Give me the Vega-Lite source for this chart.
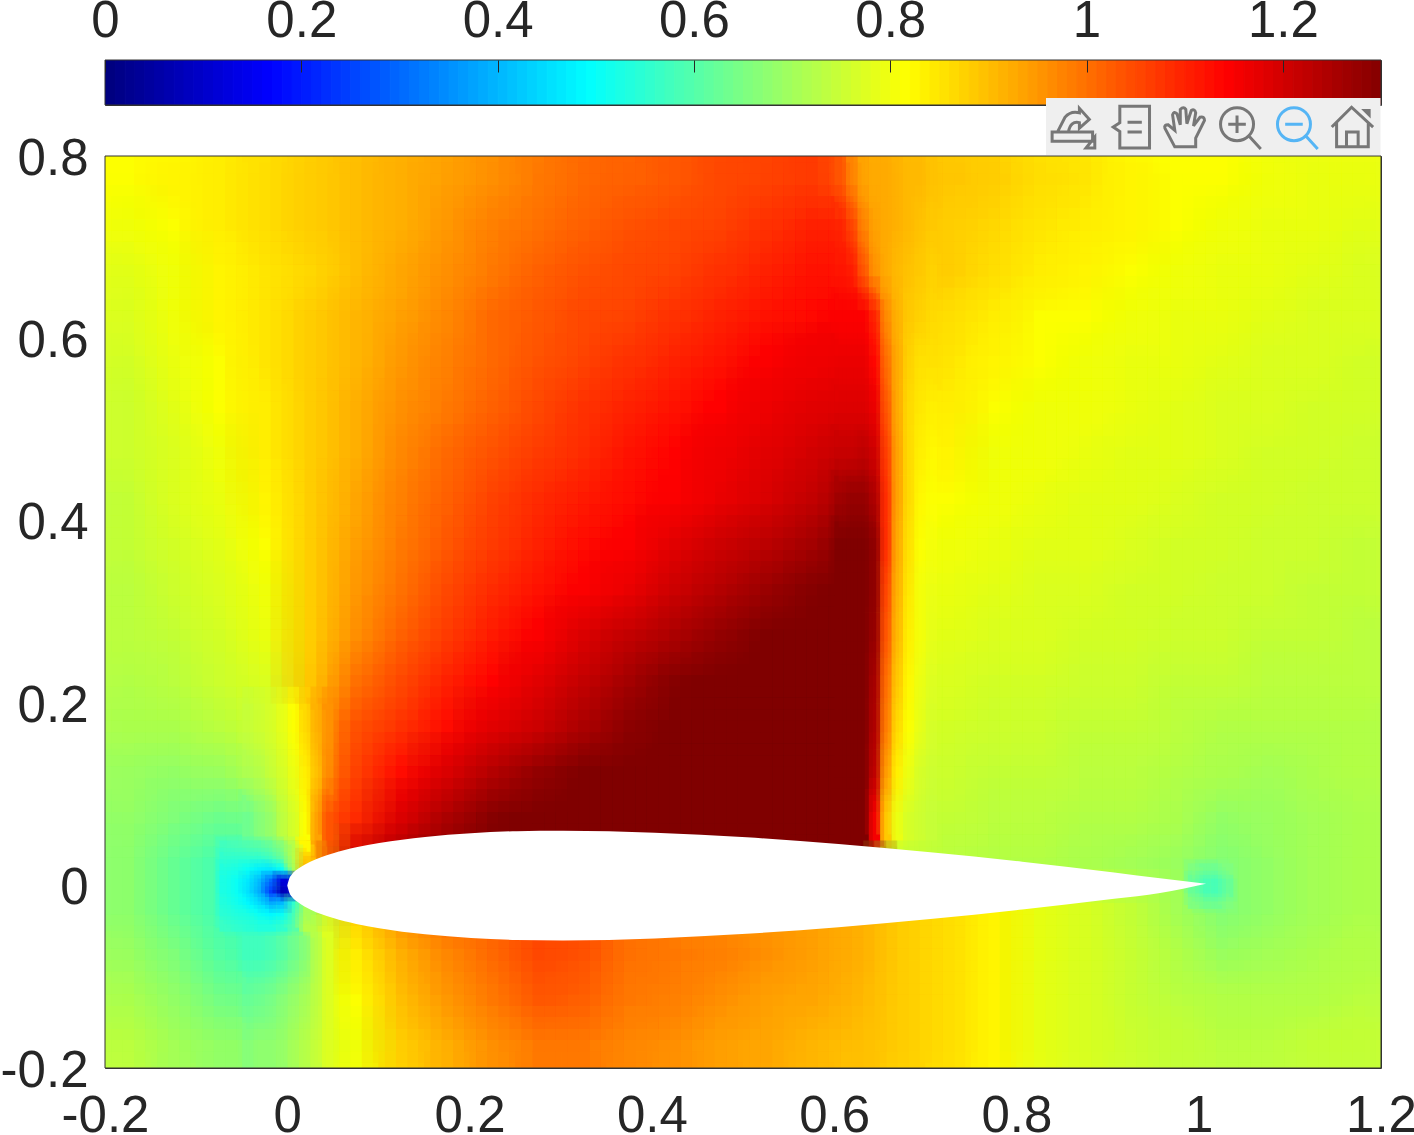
{"$schema":"https://vega.github.io/schema/vega-lite/v6.json","background":"white","padding":{"left":-1,"top":-6,"right":0,"bottom":0},"bounds":"flush","spacing":51,"config":{"font":"Liberation Sans","view":{"stroke":"#333333","strokeWidth":1},"axis":{"labelFont":"Liberation Sans","labelFontSize":51,"labelColor":"#262626","title":null,"grid":false,"domain":false}},
"datasets":{
"bar":[{"v":0},{"v":0.01},{"v":0.02},{"v":0.03},{"v":0.04},{"v":0.05},{"v":0.06},{"v":0.07},{"v":0.08},{"v":0.09},{"v":0.1},{"v":0.11},{"v":0.12},{"v":0.13},{"v":0.14},{"v":0.15},{"v":0.16},{"v":0.17},{"v":0.18},{"v":0.19},{"v":0.2},{"v":0.21},{"v":0.22},{"v":0.23},{"v":0.24},{"v":0.25},{"v":0.26},{"v":0.27},{"v":0.28},{"v":0.29},{"v":0.3},{"v":0.31},{"v":0.32},{"v":0.33},{"v":0.34},{"v":0.35},{"v":0.36},{"v":0.37},{"v":0.38},{"v":0.39},{"v":0.4},{"v":0.41},{"v":0.42},{"v":0.43},{"v":0.44},{"v":0.45},{"v":0.46},{"v":0.47},{"v":0.48},{"v":0.49},{"v":0.5},{"v":0.51},{"v":0.52},{"v":0.53},{"v":0.54},{"v":0.55},{"v":0.56},{"v":0.57},{"v":0.58},{"v":0.59},{"v":0.6},{"v":0.61},{"v":0.62},{"v":0.63},{"v":0.64},{"v":0.65},{"v":0.66},{"v":0.67},{"v":0.68},{"v":0.69},{"v":0.7},{"v":0.71},{"v":0.72},{"v":0.73},{"v":0.74},{"v":0.75},{"v":0.76},{"v":0.77},{"v":0.78},{"v":0.79},{"v":0.8},{"v":0.81},{"v":0.82},{"v":0.83},{"v":0.84},{"v":0.85},{"v":0.86},{"v":0.87},{"v":0.88},{"v":0.89},{"v":0.9},{"v":0.91},{"v":0.92},{"v":0.93},{"v":0.94},{"v":0.95},{"v":0.96},{"v":0.97},{"v":0.98},{"v":0.99},{"v":1},{"v":1.01},{"v":1.02},{"v":1.03},{"v":1.04},{"v":1.05},{"v":1.06},{"v":1.07},{"v":1.08},{"v":1.09},{"v":1.1},{"v":1.11},{"v":1.12},{"v":1.13},{"v":1.14},{"v":1.15},{"v":1.16},{"v":1.17},{"v":1.18},{"v":1.19},{"v":1.2},{"v":1.21},{"v":1.22},{"v":1.23},{"v":1.24},{"v":1.25},{"v":1.26},{"v":1.27},{"v":1.28},{"v":1.29}],
"base":[
{"x":-0.2,"y":0.75,"v":0.81},{"x":-0.15,"y":0.75,"v":0.82},{"x":-0.1,"y":0.75,"v":0.83},{"x":-0.05,"y":0.75,"v":0.85},{"x":0,"y":0.75,"v":0.87},{"x":0.05,"y":0.75,"v":0.89},{"x":0.1,"y":0.75,"v":0.91},{"x":0.15,"y":0.75,"v":0.93},{"x":0.2,"y":0.75,"v":0.95},{"x":0.25,"y":0.75,"v":0.98},{"x":0.3,"y":0.75,"v":1.0},{"x":0.35,"y":0.75,"v":1.01},{"x":0.4,"y":0.75,"v":1.02},{"x":0.45,"y":0.75,"v":1.04},{"x":0.5,"y":0.75,"v":1.05},{"x":0.55,"y":0.75,"v":1.06},{"x":0.6,"y":0.75,"v":1.03},{"x":0.65,"y":0.75,"v":0.89},{"x":0.7,"y":0.75,"v":0.88},{"x":0.75,"y":0.75,"v":0.87},{"x":0.8,"y":0.75,"v":0.85},{"x":0.85,"y":0.75,"v":0.84},{"x":0.9,"y":0.75,"v":0.82},{"x":0.95,"y":0.75,"v":0.81},{"x":1,"y":0.75,"v":0.81},{"x":1.05,"y":0.75,"v":0.8},{"x":1.1,"y":0.75,"v":0.79},{"x":1.15,"y":0.75,"v":0.79},
{"x":-0.2,"y":0.7,"v":0.8},{"x":-0.15,"y":0.7,"v":0.81},{"x":-0.1,"y":0.7,"v":0.83},{"x":-0.05,"y":0.7,"v":0.85},{"x":0,"y":0.7,"v":0.87},{"x":0.05,"y":0.7,"v":0.89},{"x":0.1,"y":0.7,"v":0.91},{"x":0.15,"y":0.7,"v":0.94},{"x":0.2,"y":0.7,"v":0.97},{"x":0.25,"y":0.7,"v":0.99},{"x":0.3,"y":0.7,"v":1.01},{"x":0.35,"y":0.7,"v":1.03},{"x":0.4,"y":0.7,"v":1.04},{"x":0.45,"y":0.7,"v":1.05},{"x":0.5,"y":0.7,"v":1.07},{"x":0.55,"y":0.7,"v":1.09},{"x":0.6,"y":0.7,"v":1.09},{"x":0.65,"y":0.7,"v":0.88},{"x":0.7,"y":0.7,"v":0.87},{"x":0.75,"y":0.7,"v":0.86},{"x":0.8,"y":0.7,"v":0.84},{"x":0.85,"y":0.7,"v":0.83},{"x":0.9,"y":0.7,"v":0.82},{"x":0.95,"y":0.7,"v":0.81},{"x":1,"y":0.7,"v":0.8},{"x":1.05,"y":0.7,"v":0.79},{"x":1.1,"y":0.7,"v":0.79},{"x":1.15,"y":0.7,"v":0.78},
{"x":-0.2,"y":0.65,"v":0.78},{"x":-0.15,"y":0.65,"v":0.8},{"x":-0.1,"y":0.65,"v":0.82},{"x":-0.05,"y":0.65,"v":0.84},{"x":0,"y":0.65,"v":0.86},{"x":0.05,"y":0.65,"v":0.89},{"x":0.1,"y":0.65,"v":0.92},{"x":0.15,"y":0.65,"v":0.95},{"x":0.2,"y":0.65,"v":0.98},{"x":0.25,"y":0.65,"v":1.01},{"x":0.3,"y":0.65,"v":1.03},{"x":0.35,"y":0.65,"v":1.04},{"x":0.4,"y":0.65,"v":1.05},{"x":0.45,"y":0.65,"v":1.07},{"x":0.5,"y":0.65,"v":1.09},{"x":0.55,"y":0.65,"v":1.11},{"x":0.6,"y":0.65,"v":1.11},{"x":0.65,"y":0.65,"v":0.87},{"x":0.7,"y":0.65,"v":0.87},{"x":0.75,"y":0.65,"v":0.85},{"x":0.8,"y":0.65,"v":0.83},{"x":0.85,"y":0.65,"v":0.82},{"x":0.9,"y":0.65,"v":0.81},{"x":0.95,"y":0.65,"v":0.8},{"x":1,"y":0.65,"v":0.79},{"x":1.05,"y":0.65,"v":0.79},{"x":1.1,"y":0.65,"v":0.78},{"x":1.15,"y":0.65,"v":0.77},
{"x":-0.2,"y":0.6,"v":0.77},{"x":-0.15,"y":0.6,"v":0.8},{"x":-0.1,"y":0.6,"v":0.82},{"x":-0.05,"y":0.6,"v":0.84},{"x":0,"y":0.6,"v":0.87},{"x":0.05,"y":0.6,"v":0.9},{"x":0.1,"y":0.6,"v":0.93},{"x":0.15,"y":0.6,"v":0.96},{"x":0.2,"y":0.6,"v":1.0},{"x":0.25,"y":0.6,"v":1.02},{"x":0.3,"y":0.6,"v":1.04},{"x":0.35,"y":0.6,"v":1.05},{"x":0.4,"y":0.6,"v":1.07},{"x":0.45,"y":0.6,"v":1.09},{"x":0.5,"y":0.6,"v":1.11},{"x":0.55,"y":0.6,"v":1.125},{"x":0.6,"y":0.6,"v":1.14},{"x":0.65,"y":0.6,"v":0.86},{"x":0.7,"y":0.6,"v":0.85},{"x":0.75,"y":0.6,"v":0.83},{"x":0.8,"y":0.6,"v":0.81},{"x":0.85,"y":0.6,"v":0.81},{"x":0.9,"y":0.6,"v":0.8},{"x":0.95,"y":0.6,"v":0.79},{"x":1,"y":0.6,"v":0.79},{"x":1.05,"y":0.6,"v":0.78},{"x":1.1,"y":0.6,"v":0.77},{"x":1.15,"y":0.6,"v":0.77},
{"x":-0.2,"y":0.55,"v":0.76},{"x":-0.15,"y":0.55,"v":0.79},{"x":-0.1,"y":0.55,"v":0.81},{"x":-0.05,"y":0.55,"v":0.84},{"x":0,"y":0.55,"v":0.87},{"x":0.05,"y":0.55,"v":0.9},{"x":0.1,"y":0.55,"v":0.94},{"x":0.15,"y":0.55,"v":0.97},{"x":0.2,"y":0.55,"v":1.0},{"x":0.25,"y":0.55,"v":1.03},{"x":0.3,"y":0.55,"v":1.05},{"x":0.35,"y":0.55,"v":1.07},{"x":0.4,"y":0.55,"v":1.09},{"x":0.45,"y":0.55,"v":1.11},{"x":0.5,"y":0.55,"v":1.14},{"x":0.55,"y":0.55,"v":1.15},{"x":0.6,"y":0.55,"v":1.16},{"x":0.65,"y":0.55,"v":0.85},{"x":0.7,"y":0.55,"v":0.84},{"x":0.75,"y":0.55,"v":0.82},{"x":0.8,"y":0.55,"v":0.81},{"x":0.85,"y":0.55,"v":0.8},{"x":0.9,"y":0.55,"v":0.79},{"x":0.95,"y":0.55,"v":0.79},{"x":1,"y":0.55,"v":0.78},{"x":1.05,"y":0.55,"v":0.77},{"x":1.1,"y":0.55,"v":0.77},{"x":1.15,"y":0.55,"v":0.76},
{"x":-0.2,"y":0.5,"v":0.75},{"x":-0.15,"y":0.5,"v":0.78},{"x":-0.1,"y":0.5,"v":0.81},{"x":-0.05,"y":0.5,"v":0.83},{"x":0,"y":0.5,"v":0.87},{"x":0.05,"y":0.5,"v":0.91},{"x":0.1,"y":0.5,"v":0.95},{"x":0.15,"y":0.5,"v":0.98},{"x":0.2,"y":0.5,"v":1.01},{"x":0.25,"y":0.5,"v":1.04},{"x":0.3,"y":0.5,"v":1.07},{"x":0.35,"y":0.5,"v":1.09},{"x":0.4,"y":0.5,"v":1.11},{"x":0.45,"y":0.5,"v":1.135},{"x":0.5,"y":0.5,"v":1.155},{"x":0.55,"y":0.5,"v":1.17},{"x":0.6,"y":0.5,"v":1.18},{"x":0.65,"y":0.5,"v":0.83},{"x":0.7,"y":0.5,"v":0.83},{"x":0.75,"y":0.5,"v":0.81},{"x":0.8,"y":0.5,"v":0.8},{"x":0.85,"y":0.5,"v":0.8},{"x":0.9,"y":0.5,"v":0.79},{"x":0.95,"y":0.5,"v":0.78},{"x":1,"y":0.5,"v":0.77},{"x":1.05,"y":0.5,"v":0.77},{"x":1.1,"y":0.5,"v":0.76},{"x":1.15,"y":0.5,"v":0.76},
{"x":-0.2,"y":0.45,"v":0.75},{"x":-0.15,"y":0.45,"v":0.77},{"x":-0.1,"y":0.45,"v":0.8},{"x":-0.05,"y":0.45,"v":0.83},{"x":0,"y":0.45,"v":0.87},{"x":0.05,"y":0.45,"v":0.91},{"x":0.1,"y":0.45,"v":0.96},{"x":0.15,"y":0.45,"v":1.0},{"x":0.2,"y":0.45,"v":1.03},{"x":0.25,"y":0.45,"v":1.06},{"x":0.3,"y":0.45,"v":1.08},{"x":0.35,"y":0.45,"v":1.11},{"x":0.4,"y":0.45,"v":1.13},{"x":0.45,"y":0.45,"v":1.15},{"x":0.5,"y":0.45,"v":1.17},{"x":0.55,"y":0.45,"v":1.19},{"x":0.6,"y":0.45,"v":1.21},{"x":0.65,"y":0.45,"v":0.82},{"x":0.7,"y":0.45,"v":0.82},{"x":0.75,"y":0.45,"v":0.8},{"x":0.8,"y":0.45,"v":0.8},{"x":0.85,"y":0.45,"v":0.79},{"x":0.9,"y":0.45,"v":0.78},{"x":0.95,"y":0.45,"v":0.78},{"x":1,"y":0.45,"v":0.77},{"x":1.05,"y":0.45,"v":0.76},{"x":1.1,"y":0.45,"v":0.76},{"x":1.15,"y":0.45,"v":0.75},
{"x":-0.2,"y":0.4,"v":0.74},{"x":-0.15,"y":0.4,"v":0.77},{"x":-0.1,"y":0.4,"v":0.79},{"x":-0.05,"y":0.4,"v":0.82},{"x":0,"y":0.4,"v":0.87},{"x":0.05,"y":0.4,"v":0.92},{"x":0.1,"y":0.4,"v":0.97},{"x":0.15,"y":0.4,"v":1.01},{"x":0.2,"y":0.4,"v":1.05},{"x":0.25,"y":0.4,"v":1.08},{"x":0.3,"y":0.4,"v":1.1},{"x":0.35,"y":0.4,"v":1.12},{"x":0.4,"y":0.4,"v":1.14},{"x":0.45,"y":0.4,"v":1.16},{"x":0.5,"y":0.4,"v":1.18},{"x":0.55,"y":0.4,"v":1.21},{"x":0.6,"y":0.4,"v":1.26},{"x":0.65,"y":0.4,"v":0.81},{"x":0.7,"y":0.4,"v":0.81},{"x":0.75,"y":0.4,"v":0.8},{"x":0.8,"y":0.4,"v":0.79},{"x":0.85,"y":0.4,"v":0.78},{"x":0.9,"y":0.4,"v":0.78},{"x":0.95,"y":0.4,"v":0.77},{"x":1,"y":0.4,"v":0.76},{"x":1.05,"y":0.4,"v":0.76},{"x":1.1,"y":0.4,"v":0.75},{"x":1.15,"y":0.4,"v":0.75},
{"x":-0.2,"y":0.35,"v":0.74},{"x":-0.15,"y":0.35,"v":0.76},{"x":-0.1,"y":0.35,"v":0.78},{"x":-0.05,"y":0.35,"v":0.81},{"x":0,"y":0.35,"v":0.87},{"x":0.05,"y":0.35,"v":0.93},{"x":0.1,"y":0.35,"v":0.98},{"x":0.15,"y":0.35,"v":1.02},{"x":0.2,"y":0.35,"v":1.06},{"x":0.25,"y":0.35,"v":1.09},{"x":0.3,"y":0.35,"v":1.12},{"x":0.35,"y":0.35,"v":1.14},{"x":0.4,"y":0.35,"v":1.17},{"x":0.45,"y":0.35,"v":1.2},{"x":0.5,"y":0.35,"v":1.22},{"x":0.55,"y":0.35,"v":1.25},{"x":0.6,"y":0.35,"v":1.3},{"x":0.65,"y":0.35,"v":0.8},{"x":0.7,"y":0.35,"v":0.8},{"x":0.75,"y":0.35,"v":0.79},{"x":0.8,"y":0.35,"v":0.78},{"x":0.85,"y":0.35,"v":0.78},{"x":0.9,"y":0.35,"v":0.77},{"x":0.95,"y":0.35,"v":0.76},{"x":1,"y":0.35,"v":0.76},{"x":1.05,"y":0.35,"v":0.75},{"x":1.1,"y":0.35,"v":0.75},{"x":1.15,"y":0.35,"v":0.74},
{"x":-0.2,"y":0.3,"v":0.73},{"x":-0.15,"y":0.3,"v":0.75},{"x":-0.1,"y":0.3,"v":0.77},{"x":-0.05,"y":0.3,"v":0.8},{"x":0,"y":0.3,"v":0.87},{"x":0.05,"y":0.3,"v":0.94},{"x":0.1,"y":0.3,"v":0.99},{"x":0.15,"y":0.3,"v":1.04},{"x":0.2,"y":0.3,"v":1.08},{"x":0.25,"y":0.3,"v":1.11},{"x":0.3,"y":0.3,"v":1.14},{"x":0.35,"y":0.3,"v":1.16},{"x":0.4,"y":0.3,"v":1.2},{"x":0.45,"y":0.3,"v":1.23},{"x":0.5,"y":0.3,"v":1.26},{"x":0.55,"y":0.3,"v":1.29},{"x":0.6,"y":0.3,"v":1.32},{"x":0.65,"y":0.3,"v":0.79},{"x":0.7,"y":0.3,"v":0.79},{"x":0.75,"y":0.3,"v":0.78},{"x":0.8,"y":0.3,"v":0.77},{"x":0.85,"y":0.3,"v":0.77},{"x":0.9,"y":0.3,"v":0.76},{"x":0.95,"y":0.3,"v":0.76},{"x":1,"y":0.3,"v":0.75},{"x":1.05,"y":0.3,"v":0.75},{"x":1.1,"y":0.3,"v":0.74},{"x":1.15,"y":0.3,"v":0.74},
{"x":-0.2,"y":0.25,"v":0.73},{"x":-0.15,"y":0.25,"v":0.74},{"x":-0.1,"y":0.25,"v":0.76},{"x":-0.05,"y":0.25,"v":0.79},{"x":0,"y":0.25,"v":0.87},{"x":0.05,"y":0.25,"v":0.95},{"x":0.1,"y":0.25,"v":1.01},{"x":0.15,"y":0.25,"v":1.06},{"x":0.2,"y":0.25,"v":1.1},{"x":0.25,"y":0.25,"v":1.14},{"x":0.3,"y":0.25,"v":1.18},{"x":0.35,"y":0.25,"v":1.21},{"x":0.4,"y":0.25,"v":1.24},{"x":0.45,"y":0.25,"v":1.27},{"x":0.5,"y":0.25,"v":1.3},{"x":0.55,"y":0.25,"v":1.32},{"x":0.6,"y":0.25,"v":1.33},{"x":0.65,"y":0.25,"v":0.78},{"x":0.7,"y":0.25,"v":0.78},{"x":0.75,"y":0.25,"v":0.77},{"x":0.8,"y":0.25,"v":0.77},{"x":0.85,"y":0.25,"v":0.76},{"x":0.9,"y":0.25,"v":0.76},{"x":0.95,"y":0.25,"v":0.75},{"x":1,"y":0.25,"v":0.75},{"x":1.05,"y":0.25,"v":0.74},{"x":1.1,"y":0.25,"v":0.74},{"x":1.15,"y":0.25,"v":0.73},
{"x":-0.2,"y":0.2,"v":0.72},{"x":-0.15,"y":0.2,"v":0.73},{"x":-0.1,"y":0.2,"v":0.75},{"x":-0.05,"y":0.2,"v":0.77},{"x":0,"y":0.2,"v":0.88},{"x":0.05,"y":0.2,"v":0.99},{"x":0.1,"y":0.2,"v":1.04},{"x":0.15,"y":0.2,"v":1.09},{"x":0.2,"y":0.2,"v":1.13},{"x":0.25,"y":0.2,"v":1.17},{"x":0.3,"y":0.2,"v":1.21},{"x":0.35,"y":0.2,"v":1.25},{"x":0.4,"y":0.2,"v":1.29},{"x":0.45,"y":0.2,"v":1.32},{"x":0.5,"y":0.2,"v":1.34},{"x":0.55,"y":0.2,"v":1.34},{"x":0.6,"y":0.2,"v":1.34},{"x":0.65,"y":0.2,"v":0.77},{"x":0.7,"y":0.2,"v":0.77},{"x":0.75,"y":0.2,"v":0.76},{"x":0.8,"y":0.2,"v":0.76},{"x":0.85,"y":0.2,"v":0.75},{"x":0.9,"y":0.2,"v":0.75},{"x":0.95,"y":0.2,"v":0.74},{"x":1,"y":0.2,"v":0.74},{"x":1.05,"y":0.2,"v":0.73},{"x":1.1,"y":0.2,"v":0.73},{"x":1.15,"y":0.2,"v":0.73},
{"x":-0.2,"y":0.15,"v":0.71},{"x":-0.15,"y":0.15,"v":0.71},{"x":-0.1,"y":0.15,"v":0.73},{"x":-0.05,"y":0.15,"v":0.75},{"x":0,"y":0.15,"v":0.92},{"x":0.05,"y":0.15,"v":1.03},{"x":0.1,"y":0.15,"v":1.07},{"x":0.15,"y":0.15,"v":1.12},{"x":0.2,"y":0.15,"v":1.17},{"x":0.25,"y":0.15,"v":1.2},{"x":0.3,"y":0.15,"v":1.24},{"x":0.35,"y":0.15,"v":1.28},{"x":0.4,"y":0.15,"v":1.32},{"x":0.45,"y":0.15,"v":1.34},{"x":0.5,"y":0.15,"v":1.35},{"x":0.55,"y":0.15,"v":1.35},{"x":0.6,"y":0.15,"v":1.34},{"x":0.65,"y":0.15,"v":0.76},{"x":0.7,"y":0.15,"v":0.76},{"x":0.75,"y":0.15,"v":0.75},{"x":0.8,"y":0.15,"v":0.75},{"x":0.85,"y":0.15,"v":0.74},{"x":0.9,"y":0.15,"v":0.74},{"x":0.95,"y":0.15,"v":0.73},{"x":1,"y":0.15,"v":0.72},{"x":1.05,"y":0.15,"v":0.72},{"x":1.1,"y":0.15,"v":0.72},{"x":1.15,"y":0.15,"v":0.72},
{"x":-0.2,"y":0.1,"v":0.69},{"x":-0.15,"y":0.1,"v":0.68},{"x":-0.1,"y":0.1,"v":0.69},{"x":-0.05,"y":0.1,"v":0.72},{"x":0,"y":0.1,"v":0.94},{"x":0.05,"y":0.1,"v":1.05},{"x":0.1,"y":0.1,"v":1.12},{"x":0.15,"y":0.1,"v":1.18},{"x":0.2,"y":0.1,"v":1.23},{"x":0.25,"y":0.1,"v":1.27},{"x":0.3,"y":0.1,"v":1.31},{"x":0.35,"y":0.1,"v":1.34},{"x":0.4,"y":0.1,"v":1.35},{"x":0.45,"y":0.1,"v":1.35},{"x":0.5,"y":0.1,"v":1.34},{"x":0.55,"y":0.1,"v":1.33},{"x":0.6,"y":0.1,"v":1.33},{"x":0.65,"y":0.1,"v":0.75},{"x":0.7,"y":0.1,"v":0.75},{"x":0.75,"y":0.1,"v":0.74},{"x":0.8,"y":0.1,"v":0.74},{"x":0.85,"y":0.1,"v":0.73},{"x":0.9,"y":0.1,"v":0.73},{"x":0.95,"y":0.1,"v":0.72},{"x":1,"y":0.1,"v":0.71},{"x":1.05,"y":0.1,"v":0.7},{"x":1.1,"y":0.1,"v":0.71},{"x":1.15,"y":0.1,"v":0.72},
{"x":-0.2,"y":0.05,"v":0.68},{"x":-0.15,"y":0.05,"v":0.65},{"x":-0.1,"y":0.05,"v":0.63},{"x":-0.05,"y":0.05,"v":0.64},{"x":0,"y":0.05,"v":1.0},{"x":0.05,"y":0.05,"v":1.08},{"x":0.1,"y":0.05,"v":1.18},{"x":0.15,"y":0.05,"v":1.24},{"x":0.2,"y":0.05,"v":1.29},{"x":0.25,"y":0.05,"v":1.33},{"x":0.3,"y":0.05,"v":1.35},{"x":0.35,"y":0.05,"v":1.36},{"x":0.4,"y":0.05,"v":1.35},{"x":0.45,"y":0.05,"v":1.35},{"x":0.5,"y":0.05,"v":1.34},{"x":0.55,"y":0.05,"v":1.32},{"x":0.6,"y":0.05,"v":1.31},{"x":0.65,"y":0.05,"v":0.74},{"x":0.7,"y":0.05,"v":0.74},{"x":0.75,"y":0.05,"v":0.73},{"x":0.8,"y":0.05,"v":0.73},{"x":0.85,"y":0.05,"v":0.72},{"x":0.9,"y":0.05,"v":0.72},{"x":0.95,"y":0.05,"v":0.71},{"x":1,"y":0.05,"v":0.68},{"x":1.05,"y":0.05,"v":0.69},{"x":1.1,"y":0.05,"v":0.7},{"x":1.15,"y":0.05,"v":0.71},
{"x":-0.2,"y":0,"v":0.67},{"x":-0.15,"y":0,"v":0.62},{"x":-0.1,"y":0,"v":0.58},{"x":-0.05,"y":0,"v":0.55},{"x":0,"y":0,"v":0.9},{"x":0.05,"y":0,"v":1.2},{"x":0.1,"y":0,"v":1.25},{"x":0.15,"y":0,"v":1.3},{"x":0.2,"y":0,"v":1.3},{"x":0.25,"y":0,"v":1.3},{"x":0.3,"y":0,"v":1.3},{"x":0.35,"y":0,"v":1.3},{"x":0.4,"y":0,"v":1.3},{"x":0.45,"y":0,"v":1.3},{"x":0.5,"y":0,"v":1.3},{"x":0.55,"y":0,"v":1.3},{"x":0.6,"y":0,"v":1.3},{"x":0.65,"y":0,"v":0.74},{"x":0.7,"y":0,"v":0.73},{"x":0.75,"y":0,"v":0.72},{"x":0.8,"y":0,"v":0.72},{"x":0.85,"y":0,"v":0.71},{"x":0.9,"y":0,"v":0.7},{"x":0.95,"y":0,"v":0.69},{"x":1,"y":0,"v":0.66},{"x":1.05,"y":0,"v":0.68},{"x":1.1,"y":0,"v":0.7},{"x":1.15,"y":0,"v":0.71},
{"x":-0.2,"y":-0.05,"v":0.67},{"x":-0.15,"y":-0.05,"v":0.62},{"x":-0.1,"y":-0.05,"v":0.58},{"x":-0.05,"y":-0.05,"v":0.55},{"x":0,"y":-0.05,"v":0.7},{"x":0.05,"y":-0.05,"v":0.87},{"x":0.1,"y":-0.05,"v":0.95},{"x":0.15,"y":-0.05,"v":1.0},{"x":0.2,"y":-0.05,"v":1.01},{"x":0.25,"y":-0.05,"v":1.04},{"x":0.3,"y":-0.05,"v":1.04},{"x":0.35,"y":-0.05,"v":0.99},{"x":0.4,"y":-0.05,"v":0.97},{"x":0.45,"y":-0.05,"v":0.95},{"x":0.5,"y":-0.05,"v":0.94},{"x":0.55,"y":-0.05,"v":0.93},{"x":0.6,"y":-0.05,"v":0.91},{"x":0.65,"y":-0.05,"v":0.87},{"x":0.7,"y":-0.05,"v":0.85},{"x":0.75,"y":-0.05,"v":0.82},{"x":0.8,"y":-0.05,"v":0.785},{"x":0.85,"y":-0.05,"v":0.765},{"x":0.9,"y":-0.05,"v":0.74},{"x":0.95,"y":-0.05,"v":0.7},{"x":1,"y":-0.05,"v":0.66},{"x":1.05,"y":-0.05,"v":0.68},{"x":1.1,"y":-0.05,"v":0.7},{"x":1.15,"y":-0.05,"v":0.71},
{"x":-0.2,"y":-0.1,"v":0.69},{"x":-0.15,"y":-0.1,"v":0.65},{"x":-0.1,"y":-0.1,"v":0.6},{"x":-0.05,"y":-0.1,"v":0.57},{"x":0,"y":-0.1,"v":0.77},{"x":0.05,"y":-0.1,"v":0.83},{"x":0.1,"y":-0.1,"v":0.91},{"x":0.15,"y":-0.1,"v":0.96},{"x":0.2,"y":-0.1,"v":1.0},{"x":0.25,"y":-0.1,"v":1.04},{"x":0.3,"y":-0.1,"v":1.03},{"x":0.35,"y":-0.1,"v":0.99},{"x":0.4,"y":-0.1,"v":0.98},{"x":0.45,"y":-0.1,"v":0.97},{"x":0.5,"y":-0.1,"v":0.95},{"x":0.55,"y":-0.1,"v":0.93},{"x":0.6,"y":-0.1,"v":0.91},{"x":0.65,"y":-0.1,"v":0.87},{"x":0.7,"y":-0.1,"v":0.85},{"x":0.75,"y":-0.1,"v":0.82},{"x":0.8,"y":-0.1,"v":0.785},{"x":0.85,"y":-0.1,"v":0.765},{"x":0.9,"y":-0.1,"v":0.745},{"x":0.95,"y":-0.1,"v":0.72},{"x":1,"y":-0.1,"v":0.69},{"x":1.05,"y":-0.1,"v":0.7},{"x":1.1,"y":-0.1,"v":0.71},{"x":1.15,"y":-0.1,"v":0.72},
{"x":-0.2,"y":-0.15,"v":0.71},{"x":-0.15,"y":-0.15,"v":0.68},{"x":-0.1,"y":-0.15,"v":0.64},{"x":-0.05,"y":-0.15,"v":0.63},{"x":0,"y":-0.15,"v":0.77},{"x":0.05,"y":-0.15,"v":0.81},{"x":0.1,"y":-0.15,"v":0.89},{"x":0.15,"y":-0.15,"v":0.94},{"x":0.2,"y":-0.15,"v":0.98},{"x":0.25,"y":-0.15,"v":1.02},{"x":0.3,"y":-0.15,"v":1.01},{"x":0.35,"y":-0.15,"v":0.98},{"x":0.4,"y":-0.15,"v":0.97},{"x":0.45,"y":-0.15,"v":0.95},{"x":0.5,"y":-0.15,"v":0.93},{"x":0.55,"y":-0.15,"v":0.92},{"x":0.6,"y":-0.15,"v":0.9},{"x":0.65,"y":-0.15,"v":0.87},{"x":0.7,"y":-0.15,"v":0.85},{"x":0.75,"y":-0.15,"v":0.82},{"x":0.8,"y":-0.15,"v":0.785},{"x":0.85,"y":-0.15,"v":0.765},{"x":0.9,"y":-0.15,"v":0.745},{"x":0.95,"y":-0.15,"v":0.73},{"x":1,"y":-0.15,"v":0.72},{"x":1.05,"y":-0.15,"v":0.72},{"x":1.1,"y":-0.15,"v":0.72},{"x":1.15,"y":-0.15,"v":0.73},
{"x":-0.2,"y":-0.2,"v":0.73},{"x":-0.15,"y":-0.2,"v":0.7},{"x":-0.1,"y":-0.2,"v":0.68},{"x":-0.05,"y":-0.2,"v":0.67},{"x":0,"y":-0.2,"v":0.76},{"x":0.05,"y":-0.2,"v":0.8},{"x":0.1,"y":-0.2,"v":0.87},{"x":0.15,"y":-0.2,"v":0.91},{"x":0.2,"y":-0.2,"v":0.95},{"x":0.25,"y":-0.2,"v":0.98},{"x":0.3,"y":-0.2,"v":0.98},{"x":0.35,"y":-0.2,"v":0.96},{"x":0.4,"y":-0.2,"v":0.95},{"x":0.45,"y":-0.2,"v":0.93},{"x":0.5,"y":-0.2,"v":0.92},{"x":0.55,"y":-0.2,"v":0.9},{"x":0.6,"y":-0.2,"v":0.89},{"x":0.65,"y":-0.2,"v":0.87},{"x":0.7,"y":-0.2,"v":0.85},{"x":0.75,"y":-0.2,"v":0.82},{"x":0.8,"y":-0.2,"v":0.785},{"x":0.85,"y":-0.2,"v":0.765},{"x":0.9,"y":-0.2,"v":0.75},{"x":0.95,"y":-0.2,"v":0.74},{"x":1,"y":-0.2,"v":0.73},{"x":1.05,"y":-0.2,"v":0.73},{"x":1.1,"y":-0.2,"v":0.74},{"x":1.15,"y":-0.2,"v":0.74}],
"shock":[
{"x":0.6,"y":0.75,"v":1.03},{"x":0.6125,"y":0.75,"v":0.97},{"x":0.625,"y":0.75,"v":0.93},{"x":0.6375,"y":0.75,"v":0.92},{"x":0.65,"y":0.75,"v":0.92},{"x":0.6625,"y":0.75,"v":0.91},{"x":0.675,"y":0.75,"v":0.9},{"x":0.6875,"y":0.75,"v":0.9},{"x":0.7,"y":0.75,"v":0.89},
{"x":0.6,"y":0.7,"v":1.09},{"x":0.6125,"y":0.7,"v":1.05},{"x":0.625,"y":0.7,"v":0.97},{"x":0.6375,"y":0.7,"v":0.93},{"x":0.65,"y":0.7,"v":0.92},{"x":0.6625,"y":0.7,"v":0.91},{"x":0.675,"y":0.7,"v":0.9},{"x":0.6875,"y":0.7,"v":0.89},{"x":0.7,"y":0.7,"v":0.88},
{"x":0.6,"y":0.65,"v":1.11},{"x":0.6125,"y":0.65,"v":1.1},{"x":0.625,"y":0.65,"v":1.03},{"x":0.6375,"y":0.65,"v":0.95},{"x":0.65,"y":0.65,"v":0.92},{"x":0.6625,"y":0.65,"v":0.9},{"x":0.675,"y":0.65,"v":0.89},{"x":0.6875,"y":0.65,"v":0.88},{"x":0.7,"y":0.65,"v":0.87},
{"x":0.6,"y":0.6,"v":1.14},{"x":0.6125,"y":0.6,"v":1.14},{"x":0.625,"y":0.6,"v":1.14},{"x":0.6375,"y":0.6,"v":1.09},{"x":0.65,"y":0.6,"v":0.96},{"x":0.6625,"y":0.6,"v":0.91},{"x":0.675,"y":0.6,"v":0.88},{"x":0.6875,"y":0.6,"v":0.87},{"x":0.7,"y":0.6,"v":0.86},
{"x":0.6,"y":0.55,"v":1.16},{"x":0.6125,"y":0.55,"v":1.16},{"x":0.625,"y":0.55,"v":1.16},{"x":0.6375,"y":0.55,"v":1.13},{"x":0.65,"y":0.55,"v":1.0},{"x":0.6625,"y":0.55,"v":0.92},{"x":0.675,"y":0.55,"v":0.87},{"x":0.6875,"y":0.55,"v":0.85},{"x":0.7,"y":0.55,"v":0.85},
{"x":0.6,"y":0.5,"v":1.18},{"x":0.6125,"y":0.5,"v":1.18},{"x":0.625,"y":0.5,"v":1.18},{"x":0.6375,"y":0.5,"v":1.16},{"x":0.65,"y":0.5,"v":1.03},{"x":0.6625,"y":0.5,"v":0.92},{"x":0.675,"y":0.5,"v":0.86},{"x":0.6875,"y":0.5,"v":0.84},{"x":0.7,"y":0.5,"v":0.83},
{"x":0.6,"y":0.45,"v":1.21},{"x":0.6125,"y":0.45,"v":1.21},{"x":0.625,"y":0.45,"v":1.22},{"x":0.6375,"y":0.45,"v":1.2},{"x":0.65,"y":0.45,"v":1.06},{"x":0.6625,"y":0.45,"v":0.93},{"x":0.675,"y":0.45,"v":0.86},{"x":0.6875,"y":0.45,"v":0.83},{"x":0.7,"y":0.45,"v":0.82},
{"x":0.6,"y":0.4,"v":1.26},{"x":0.6125,"y":0.4,"v":1.27},{"x":0.625,"y":0.4,"v":1.27},{"x":0.6375,"y":0.4,"v":1.24},{"x":0.65,"y":0.4,"v":1.08},{"x":0.6625,"y":0.4,"v":0.93},{"x":0.675,"y":0.4,"v":0.86},{"x":0.6875,"y":0.4,"v":0.82},{"x":0.7,"y":0.4,"v":0.81},
{"x":0.6,"y":0.35,"v":1.3},{"x":0.6125,"y":0.35,"v":1.31},{"x":0.625,"y":0.35,"v":1.31},{"x":0.6375,"y":0.35,"v":1.28},{"x":0.65,"y":0.35,"v":1.08},{"x":0.6625,"y":0.35,"v":0.92},{"x":0.675,"y":0.35,"v":0.85},{"x":0.6875,"y":0.35,"v":0.81},{"x":0.7,"y":0.35,"v":0.8},
{"x":0.6,"y":0.3,"v":1.33},{"x":0.6125,"y":0.3,"v":1.33},{"x":0.625,"y":0.3,"v":1.33},{"x":0.6375,"y":0.3,"v":1.28},{"x":0.65,"y":0.3,"v":1.05},{"x":0.6625,"y":0.3,"v":0.91},{"x":0.675,"y":0.3,"v":0.84},{"x":0.6875,"y":0.3,"v":0.8},{"x":0.7,"y":0.3,"v":0.79},
{"x":0.6,"y":0.25,"v":1.33},{"x":0.6125,"y":0.25,"v":1.33},{"x":0.625,"y":0.25,"v":1.33},{"x":0.6375,"y":0.25,"v":1.27},{"x":0.65,"y":0.25,"v":1.03},{"x":0.6625,"y":0.25,"v":0.9},{"x":0.675,"y":0.25,"v":0.83},{"x":0.6875,"y":0.25,"v":0.8},{"x":0.7,"y":0.25,"v":0.78},
{"x":0.6,"y":0.2,"v":1.34},{"x":0.6125,"y":0.2,"v":1.34},{"x":0.625,"y":0.2,"v":1.34},{"x":0.6375,"y":0.2,"v":1.25},{"x":0.65,"y":0.2,"v":1.0},{"x":0.6625,"y":0.2,"v":0.88},{"x":0.675,"y":0.2,"v":0.82},{"x":0.6875,"y":0.2,"v":0.79},{"x":0.7,"y":0.2,"v":0.77},
{"x":0.6,"y":0.15,"v":1.34},{"x":0.6125,"y":0.15,"v":1.34},{"x":0.625,"y":0.15,"v":1.34},{"x":0.6375,"y":0.15,"v":1.24},{"x":0.65,"y":0.15,"v":0.98},{"x":0.6625,"y":0.15,"v":0.86},{"x":0.675,"y":0.15,"v":0.81},{"x":0.6875,"y":0.15,"v":0.78},{"x":0.7,"y":0.15,"v":0.76},
{"x":0.6,"y":0.1,"v":1.33},{"x":0.6125,"y":0.1,"v":1.33},{"x":0.625,"y":0.1,"v":1.33},{"x":0.6375,"y":0.1,"v":1.22},{"x":0.65,"y":0.1,"v":0.94},{"x":0.6625,"y":0.1,"v":0.83},{"x":0.675,"y":0.1,"v":0.79},{"x":0.6875,"y":0.1,"v":0.76},{"x":0.7,"y":0.1,"v":0.75},
{"x":0.6,"y":0.05,"v":1.31},{"x":0.6125,"y":0.05,"v":1.31},{"x":0.625,"y":0.05,"v":1.31},{"x":0.6375,"y":0.05,"v":1.15},{"x":0.65,"y":0.05,"v":0.88},{"x":0.6625,"y":0.05,"v":0.79},{"x":0.675,"y":0.05,"v":0.76},{"x":0.6875,"y":0.05,"v":0.75},{"x":0.7,"y":0.05,"v":0.74},
{"x":-0.05,"y":0.15,"v":0.74},{"x":-0.0375,"y":0.15,"v":0.75},{"x":-0.025,"y":0.15,"v":0.76},{"x":-0.0125,"y":0.15,"v":0.78},{"x":0,"y":0.15,"v":0.81},{"x":0.0125,"y":0.15,"v":0.86},{"x":0.025,"y":0.15,"v":0.91},{"x":0.0375,"y":0.15,"v":0.95},
{"x":-0.05,"y":0.1,"v":0.71},{"x":-0.0375,"y":0.1,"v":0.72},{"x":-0.025,"y":0.1,"v":0.74},{"x":-0.0125,"y":0.1,"v":0.76},{"x":0,"y":0.1,"v":0.79},{"x":0.0125,"y":0.1,"v":0.83},{"x":0.025,"y":0.1,"v":0.89},{"x":0.0375,"y":0.1,"v":0.96},
{"x":-0.05,"y":0.05,"v":0.63},{"x":-0.0375,"y":0.05,"v":0.66},{"x":-0.025,"y":0.05,"v":0.68},{"x":-0.0125,"y":0.05,"v":0.73},{"x":0,"y":0.05,"v":0.76},{"x":0.0125,"y":0.05,"v":0.81},{"x":0.025,"y":0.05,"v":0.93},{"x":0.0375,"y":0.05,"v":1.03},
{"x":-0.05,"y":-0.1,"v":0.57},{"x":-0.0375,"y":-0.1,"v":0.57},{"x":-0.025,"y":-0.1,"v":0.58},{"x":-0.0125,"y":-0.1,"v":0.6},{"x":0,"y":-0.1,"v":0.63},{"x":0.0125,"y":-0.1,"v":0.66},{"x":0.025,"y":-0.1,"v":0.72},{"x":0.0375,"y":-0.1,"v":0.77},
{"x":-0.05,"y":-0.15,"v":0.62},{"x":-0.0375,"y":-0.15,"v":0.63},{"x":-0.025,"y":-0.15,"v":0.64},{"x":-0.0125,"y":-0.15,"v":0.66},{"x":0,"y":-0.15,"v":0.68},{"x":0.0125,"y":-0.15,"v":0.7},{"x":0.025,"y":-0.15,"v":0.73},{"x":0.0375,"y":-0.15,"v":0.77},
{"x":-0.05,"y":-0.2,"v":0.66},{"x":-0.0375,"y":-0.2,"v":0.67},{"x":-0.025,"y":-0.2,"v":0.67},{"x":-0.0125,"y":-0.2,"v":0.68},{"x":0,"y":-0.2,"v":0.7},{"x":0.0125,"y":-0.2,"v":0.72},{"x":0.025,"y":-0.2,"v":0.74},{"x":0.0375,"y":-0.2,"v":0.77}],
"lead":[
{"x":-0.075,"y":0.0375,"v":0.57},{"x":-0.0625,"y":0.0375,"v":0.58},{"x":-0.05,"y":0.0375,"v":0.59},{"x":-0.0375,"y":0.0375,"v":0.6},{"x":-0.025,"y":0.0375,"v":0.62},{"x":-0.0125,"y":0.0375,"v":0.66},{"x":0,"y":0.0375,"v":0.72},{"x":0.0125,"y":0.0375,"v":0.82},
{"x":-0.075,"y":0.025,"v":0.55},{"x":-0.0625,"y":0.025,"v":0.55},{"x":-0.05,"y":0.025,"v":0.55},{"x":-0.0375,"y":0.025,"v":0.55},{"x":-0.025,"y":0.025,"v":0.57},{"x":-0.0125,"y":0.025,"v":0.62},{"x":0,"y":0.025,"v":0.72},{"x":0.0125,"y":0.025,"v":0.88},
{"x":-0.075,"y":0.0125,"v":0.53},{"x":-0.0625,"y":0.0125,"v":0.52},{"x":-0.05,"y":0.0125,"v":0.5},{"x":-0.0375,"y":0.0125,"v":0.47},{"x":-0.025,"y":0.0125,"v":0.46},{"x":-0.0125,"y":0.0125,"v":0.5},{"x":0,"y":0.0125,"v":0.7},{"x":0.0125,"y":0.0125,"v":0.9},
{"x":-0.075,"y":0,"v":0.52},{"x":-0.0625,"y":0,"v":0.5},{"x":-0.05,"y":0,"v":0.46},{"x":-0.0375,"y":0,"v":0.4},{"x":-0.025,"y":0,"v":0.3},{"x":-0.0125,"y":0,"v":0.12},{"x":0,"y":0,"v":0.1},{"x":0.0125,"y":0,"v":0.8},
{"x":-0.075,"y":-0.0125,"v":0.52},{"x":-0.0625,"y":-0.0125,"v":0.5},{"x":-0.05,"y":-0.0125,"v":0.45},{"x":-0.0375,"y":-0.0125,"v":0.38},{"x":-0.025,"y":-0.0125,"v":0.24},{"x":-0.0125,"y":-0.0125,"v":0.07},{"x":0,"y":-0.0125,"v":0.1},{"x":0.0125,"y":-0.0125,"v":0.7},
{"x":-0.075,"y":-0.025,"v":0.53},{"x":-0.0625,"y":-0.025,"v":0.51},{"x":-0.05,"y":-0.025,"v":0.48},{"x":-0.0375,"y":-0.025,"v":0.44},{"x":-0.025,"y":-0.025,"v":0.38},{"x":-0.0125,"y":-0.025,"v":0.4},{"x":0,"y":-0.025,"v":0.55},{"x":0.0125,"y":-0.025,"v":0.7},
{"x":-0.075,"y":-0.0375,"v":0.54},{"x":-0.0625,"y":-0.0375,"v":0.53},{"x":-0.05,"y":-0.0375,"v":0.52},{"x":-0.0375,"y":-0.0375,"v":0.5},{"x":-0.025,"y":-0.0375,"v":0.48},{"x":-0.0125,"y":-0.0375,"v":0.5},{"x":0,"y":-0.0375,"v":0.58},{"x":0.0125,"y":-0.0375,"v":0.7},
{"x":-0.075,"y":-0.05,"v":0.56},{"x":-0.0625,"y":-0.05,"v":0.55},{"x":-0.05,"y":-0.05,"v":0.54},{"x":-0.0375,"y":-0.05,"v":0.53},{"x":-0.025,"y":-0.05,"v":0.53},{"x":-0.0125,"y":-0.05,"v":0.55},{"x":0,"y":-0.05,"v":0.6},{"x":0.0125,"y":-0.05,"v":0.72},
{"x":0.9875,"y":0.0125,"v":0.65},{"x":1,"y":0.0125,"v":0.63},{"x":1.0125,"y":0.0125,"v":0.63},{"x":1.025,"y":0.0125,"v":0.65},
{"x":0.9875,"y":0,"v":0.62},{"x":1,"y":0,"v":0.58},{"x":1.0125,"y":0,"v":0.58},{"x":1.025,"y":0,"v":0.62},
{"x":0.9875,"y":-0.0125,"v":0.62},{"x":1,"y":-0.0125,"v":0.58},{"x":1.0125,"y":-0.0125,"v":0.58},{"x":1.025,"y":-0.0125,"v":0.62},
{"x":0.9875,"y":-0.025,"v":0.65},{"x":1,"y":-0.025,"v":0.63},{"x":1.0125,"y":-0.025,"v":0.63},{"x":1.025,"y":-0.025,"v":0.65}],
"foil":[{"x":0,"u":0,"l":0},{"x":0.0025,"u":0.0085,"l":-0.0085},{"x":0.005,"u":0.0122,"l":-0.0122},{"x":0.0126,"u":0.0189,"l":-0.0189},{"x":0.0252,"u":0.0262,"l":-0.0262},{"x":0.0504,"u":0.0356,"l":-0.0356},{"x":0.0756,"u":0.042,"l":-0.042},{"x":0.1008,"u":0.0468,"l":-0.0468},{"x":0.1512,"u":0.0534,"l":-0.0534},{"x":0.2016,"u":0.0574,"l":-0.0574},{"x":0.252,"u":0.0597,"l":-0.0597},{"x":0.3024,"u":0.0602,"l":-0.0602},{"x":0.4032,"u":0.058,"l":-0.058},{"x":0.504,"u":0.0529,"l":-0.0529},{"x":0.6048,"u":0.0456,"l":-0.0456},{"x":0.7056,"u":0.0366,"l":-0.0366},{"x":0.8064,"u":0.0262,"l":-0.0262},{"x":0.9072,"u":0.0145,"l":-0.0145},{"x":0.9576,"u":0.0081,"l":-0.0081},{"x":1.008,"u":0.002,"l":0.002}]
},
"vconcat":[
{"width":1276,"height":45,"layer":[
{"data":{"name":"bar"},"mark":{"type":"rect","clip":true},"encoding":{
"x":{"field":"v","type":"quantitative","bin":{"binned":true,"step":0.01},"scale":{"domain":[0,1.3],"nice":false,"zero":false},"axis":{"orient":"top","values":[0,0.2,0.4,0.6,0.8,1,1.2],"tickSize":-12,"tickColor":"#262626","tickWidth":1,"labelPadding":25,"labelFlush":false,"zindex":1,"labelExpr":"format(datum.value,'.1~f')"}},
"color":{"field":"v","type":"quantitative","legend":null,"scale":{"domain":[0,0.1625,0.4875,0.8125,1.1375,1.3],"range":["#000080","#0000ff","#00ffff","#ffff00","#ff0000","#800000"],"clamp":true,"interpolate":"rgb"}},
"stroke":{"field":"v","type":"quantitative","legend":null,"scale":{"domain":[0,0.1625,0.4875,0.8125,1.1375,1.3],"range":["#000080","#0000ff","#00ffff","#ffff00","#ff0000","#800000"],"clamp":true,"interpolate":"rgb"}}}},
{"data":{"values":[{"p":0,"q":1.3,"a":0,"b":1}]},"mark":{"type":"rect","fillOpacity":0,"stroke":"#333333","strokeWidth":1},"encoding":{"x":{"field":"p","type":"quantitative"},"x2":{"field":"q"},"y":{"field":"a","type":"quantitative","scale":{"domain":[0,1],"nice":false,"zero":false},"axis":null},"y2":{"field":"b"}}},
{"data":{"values":[{"p":0.9587,"q":1.2995,"a":0.155,"b":-1.11}]},"mark":{"type":"rect","fill":"#efefef"},"encoding":{"x":{"field":"p","type":"quantitative"},"x2":{"field":"q"},"y":{"field":"a","type":"quantitative"},"y2":{"field":"b"}}},
{"data":{"values":[{"p":0.986,"a":-0.49}]},"mark":{"type":"point","filled":false,"stroke":"#777777","strokeWidth":3,"size":1936,"opacity":1,"shape":"M-0.94,0.23 H0.9 V0.64 H-0.94 Z M-0.7,0.23 L-0.35,-0.45 Q-0.1,-0.75 0.3,-0.65 V-0.85 L0.75,-0.35 L0.3,0.05 V-0.2 Q-0.1,-0.3 -0.2,0.23 M0.6,0.95 L1,0.95 L1,0.45 Z"},"encoding":{"x":{"field":"p","type":"quantitative"},"y":{"field":"a","type":"quantitative"}}},
{"data":{"values":[{"p":1.044,"a":-0.49}]},"mark":{"type":"point","filled":false,"stroke":"#777777","strokeWidth":3,"size":1936,"opacity":1,"shape":"M-0.45,-0.95 H0.9 V0.95 H-0.45 V0.2 L-0.75,0 L-0.45,-0.2 Z M-0.1,-0.22 H0.55 M-0.1,0.22 H0.55"},"encoding":{"x":{"field":"p","type":"quantitative"},"y":{"field":"a","type":"quantitative"}}},
{"data":{"values":[{"p":1.1,"a":-0.49}]},"mark":{"type":"point","filled":false,"stroke":"#777777","strokeWidth":3,"size":1936,"opacity":1,"shape":"M-0.45,0.9 L-0.9,0.05 Q-0.95,-0.1 -0.75,-0.1 L-0.45,0.15 L-0.55,-0.55 Q-0.5,-0.75 -0.35,-0.6 L-0.2,-0.1 L-0.2,-0.8 Q-0.05,-0.95 0.05,-0.8 L0.1,-0.15 L0.3,-0.75 Q0.45,-0.85 0.5,-0.65 L0.4,-0.05 L0.7,-0.45 Q0.9,-0.5 0.9,-0.3 L0.5,0.5 V0.9 Z"},"encoding":{"x":{"field":"p","type":"quantitative"},"y":{"field":"a","type":"quantitative"}}},
{"data":{"values":[{"p":1.154,"a":-0.49}]},"mark":{"type":"point","filled":false,"stroke":"#777777","strokeWidth":3,"size":1936,"opacity":1,"shape":"M-0.78,-0.13 A0.75,0.75 0 1 1 0.72,-0.13 A0.75,0.75 0 1 1 -0.78,-0.13 Z M-0.43,-0.13 H0.37 M-0.03,-0.53 V0.27 M0.5,0.4 L1.05,1"},"encoding":{"x":{"field":"p","type":"quantitative"},"y":{"field":"a","type":"quantitative"}}},
{"data":{"values":[{"p":1.212,"a":-0.49}]},"mark":{"type":"point","filled":false,"stroke":"#55b5f5","strokeWidth":3,"size":1936,"opacity":1,"shape":"M-0.78,-0.13 A0.75,0.75 0 1 1 0.72,-0.13 A0.75,0.75 0 1 1 -0.78,-0.13 Z M-0.43,-0.13 H0.37 M0.5,0.4 L1.05,1"},"encoding":{"x":{"field":"p","type":"quantitative"},"y":{"field":"a","type":"quantitative"}}},
{"data":{"values":[{"p":1.27,"a":-0.49}]},"mark":{"type":"point","filled":false,"stroke":"#777777","strokeWidth":3,"size":1936,"opacity":1,"shape":"M-0.9,0 L0,-0.9 L0.98,0 M-0.68,-0.2 V0.9 H0.76 V-0.2 M-0.23,0.9 V0.23 H0.3 V0.9 M0.6,-0.75 H0.8 V-0.55 Z"},"encoding":{"x":{"field":"p","type":"quantitative"},"y":{"field":"a","type":"quantitative"}}}
]},
{"width":1276,"height":912,
"encoding":{"color":{"field":"v","type":"quantitative","legend":null}},
"layer":[
{"data":{"name":"base"},"mark":{"type":"rect","clip":true},"encoding":{
"x":{"field":"x","type":"quantitative","bin":{"binned":true,"step":0.05},"scale":{"domain":[-0.2,1.2],"nice":false,"zero":false},"axis":{"values":[-0.2,0,0.2,0.4,0.6,0.8,1,1.2],"ticks":false,"labelPadding":23,"labelFlush":false,"labelExpr":"datum.value==-0.2?'-0.2':format(datum.value,'.1~f')"}},
"y":{"field":"y","type":"quantitative","bin":{"binned":true,"step":0.05},"scale":{"domain":[-0.2,0.8],"nice":false,"zero":false},"axis":{"values":[-0.2,0,0.2,0.4,0.6,0.8],"ticks":false,"labelPadding":17,"labelOffset":3,"labelFlush":false,"labelExpr":"datum.value==-0.2?'-0.2':format(datum.value,'.1~f')"}},
"stroke":{"field":"v","type":"quantitative","legend":null,"scale":{"domain":[0,0.1625,0.4875,0.8125,1.1375,1.3],"range":["#000080","#0000ff","#00ffff","#ffff00","#ff0000","#800000"],"clamp":true,"interpolate":"rgb"}}}},
{"data":{"name":"base"},"mark":{"type":"rect","clip":true,"opacity":0.5,"xOffset":-17,"yOffset":-17},"encoding":{"x":{"field":"x","type":"quantitative","bin":{"binned":true,"step":0.05}},"y":{"field":"y","type":"quantitative","bin":{"binned":true,"step":0.05}}}},
{"data":{"name":"base"},"mark":{"type":"rect","clip":true,"opacity":0.333,"xOffset":17,"yOffset":17},"encoding":{"x":{"field":"x","type":"quantitative","bin":{"binned":true,"step":0.05}},"y":{"field":"y","type":"quantitative","bin":{"binned":true,"step":0.05}}}},
{"data":{"name":"base"},"mark":{"type":"rect","clip":true,"opacity":0.25,"xOffset":-17,"yOffset":17},"encoding":{"x":{"field":"x","type":"quantitative","bin":{"binned":true,"step":0.05}},"y":{"field":"y","type":"quantitative","bin":{"binned":true,"step":0.05}}}},
{"data":{"name":"base"},"mark":{"type":"rect","clip":true,"opacity":0.2,"xOffset":17,"yOffset":-17},"encoding":{"x":{"field":"x","type":"quantitative","bin":{"binned":true,"step":0.05}},"y":{"field":"y","type":"quantitative","bin":{"binned":true,"step":0.05}}}},
{"data":{"name":"base"},"mark":{"type":"rect","clip":true,"opacity":0.167,"xOffset":-6,"yOffset":-6},"encoding":{"x":{"field":"x","type":"quantitative","bin":{"binned":true,"step":0.05}},"y":{"field":"y","type":"quantitative","bin":{"binned":true,"step":0.05}}}},
{"data":{"name":"base"},"mark":{"type":"rect","clip":true,"opacity":0.143,"xOffset":6,"yOffset":6},"encoding":{"x":{"field":"x","type":"quantitative","bin":{"binned":true,"step":0.05}},"y":{"field":"y","type":"quantitative","bin":{"binned":true,"step":0.05}}}},
{"data":{"name":"base"},"mark":{"type":"rect","clip":true,"opacity":0.125,"xOffset":-6,"yOffset":6},"encoding":{"x":{"field":"x","type":"quantitative","bin":{"binned":true,"step":0.05}},"y":{"field":"y","type":"quantitative","bin":{"binned":true,"step":0.05}}}},
{"data":{"name":"base"},"mark":{"type":"rect","clip":true,"opacity":0.111,"xOffset":6,"yOffset":-6},"encoding":{"x":{"field":"x","type":"quantitative","bin":{"binned":true,"step":0.05}},"y":{"field":"y","type":"quantitative","bin":{"binned":true,"step":0.05}}}},
{"data":{"name":"base"},"mark":{"type":"rect","clip":true,"opacity":0.1,"xOffset":-17,"yOffset":-6},"encoding":{"x":{"field":"x","type":"quantitative","bin":{"binned":true,"step":0.05}},"y":{"field":"y","type":"quantitative","bin":{"binned":true,"step":0.05}}}},
{"data":{"name":"base"},"mark":{"type":"rect","clip":true,"opacity":0.091,"xOffset":17,"yOffset":6},"encoding":{"x":{"field":"x","type":"quantitative","bin":{"binned":true,"step":0.05}},"y":{"field":"y","type":"quantitative","bin":{"binned":true,"step":0.05}}}},
{"data":{"name":"base"},"mark":{"type":"rect","clip":true,"opacity":0.083,"xOffset":-17,"yOffset":6},"encoding":{"x":{"field":"x","type":"quantitative","bin":{"binned":true,"step":0.05}},"y":{"field":"y","type":"quantitative","bin":{"binned":true,"step":0.05}}}},
{"data":{"name":"base"},"mark":{"type":"rect","clip":true,"opacity":0.077,"xOffset":17,"yOffset":-6},"encoding":{"x":{"field":"x","type":"quantitative","bin":{"binned":true,"step":0.05}},"y":{"field":"y","type":"quantitative","bin":{"binned":true,"step":0.05}}}},
{"data":{"name":"base"},"mark":{"type":"rect","clip":true,"opacity":0.071,"xOffset":-6,"yOffset":-17},"encoding":{"x":{"field":"x","type":"quantitative","bin":{"binned":true,"step":0.05}},"y":{"field":"y","type":"quantitative","bin":{"binned":true,"step":0.05}}}},
{"data":{"name":"base"},"mark":{"type":"rect","clip":true,"opacity":0.067,"xOffset":6,"yOffset":17},"encoding":{"x":{"field":"x","type":"quantitative","bin":{"binned":true,"step":0.05}},"y":{"field":"y","type":"quantitative","bin":{"binned":true,"step":0.05}}}},
{"data":{"name":"base"},"mark":{"type":"rect","clip":true,"opacity":0.063,"xOffset":-6,"yOffset":17},"encoding":{"x":{"field":"x","type":"quantitative","bin":{"binned":true,"step":0.05}},"y":{"field":"y","type":"quantitative","bin":{"binned":true,"step":0.05}}}},
{"data":{"name":"base"},"mark":{"type":"rect","clip":true,"opacity":0.059,"xOffset":6,"yOffset":-17},"encoding":{"x":{"field":"x","type":"quantitative","bin":{"binned":true,"step":0.05}},"y":{"field":"y","type":"quantitative","bin":{"binned":true,"step":0.05}}}},
{"data":{"name":"shock"},"mark":{"type":"rect","clip":true},"encoding":{"x":{"field":"x","type":"quantitative","bin":{"binned":true,"step":0.0125}},"y":{"field":"y","type":"quantitative","bin":{"binned":true,"step":0.05}}}},
{"data":{"name":"shock"},"mark":{"type":"rect","clip":true,"opacity":0.5,"yOffset":-17},"encoding":{"x":{"field":"x","type":"quantitative","bin":{"binned":true,"step":0.0125}},"y":{"field":"y","type":"quantitative","bin":{"binned":true,"step":0.05}}}},
{"data":{"name":"shock"},"mark":{"type":"rect","clip":true,"opacity":0.333,"yOffset":17},"encoding":{"x":{"field":"x","type":"quantitative","bin":{"binned":true,"step":0.0125}},"y":{"field":"y","type":"quantitative","bin":{"binned":true,"step":0.05}}}},
{"data":{"name":"shock"},"mark":{"type":"rect","clip":true,"opacity":0.25,"xOffset":-4,"yOffset":-6},"encoding":{"x":{"field":"x","type":"quantitative","bin":{"binned":true,"step":0.0125}},"y":{"field":"y","type":"quantitative","bin":{"binned":true,"step":0.05}}}},
{"data":{"name":"shock"},"mark":{"type":"rect","clip":true,"opacity":0.2,"xOffset":4,"yOffset":6},"encoding":{"x":{"field":"x","type":"quantitative","bin":{"binned":true,"step":0.0125}},"y":{"field":"y","type":"quantitative","bin":{"binned":true,"step":0.05}}}},
{"data":{"name":"lead"},"mark":{"type":"rect","clip":true},"encoding":{"x":{"field":"x","type":"quantitative","bin":{"binned":true,"step":0.0125}},"y":{"field":"y","type":"quantitative","bin":{"binned":true,"step":0.0125}}}},
{"data":{"name":"lead"},"mark":{"type":"rect","clip":true,"opacity":0.5,"xOffset":-4,"yOffset":-4},"encoding":{"x":{"field":"x","type":"quantitative","bin":{"binned":true,"step":0.0125}},"y":{"field":"y","type":"quantitative","bin":{"binned":true,"step":0.0125}}}},
{"data":{"name":"lead"},"mark":{"type":"rect","clip":true,"opacity":0.333,"xOffset":4,"yOffset":4},"encoding":{"x":{"field":"x","type":"quantitative","bin":{"binned":true,"step":0.0125}},"y":{"field":"y","type":"quantitative","bin":{"binned":true,"step":0.0125}}}},
{"data":{"name":"foil"},"mark":{"type":"area","fill":"#ffffff","interpolate":"monotone"},"encoding":{"x":{"field":"x","type":"quantitative"},"y":{"field":"u","type":"quantitative"},"y2":{"field":"l"},"color":null}},
{"data":{"values":[{"p":-0.2,"q":1.2,"a":-0.2,"b":0.8}]},"mark":{"type":"rect","fillOpacity":0,"stroke":"#333333","strokeWidth":1},"encoding":{"x":{"field":"p","type":"quantitative"},"x2":{"field":"q"},"y":{"field":"a","type":"quantitative"},"y2":{"field":"b"},"color":null}}
]}
],"resolve":{"scale":{"x":"independent","y":"independent"}}}
